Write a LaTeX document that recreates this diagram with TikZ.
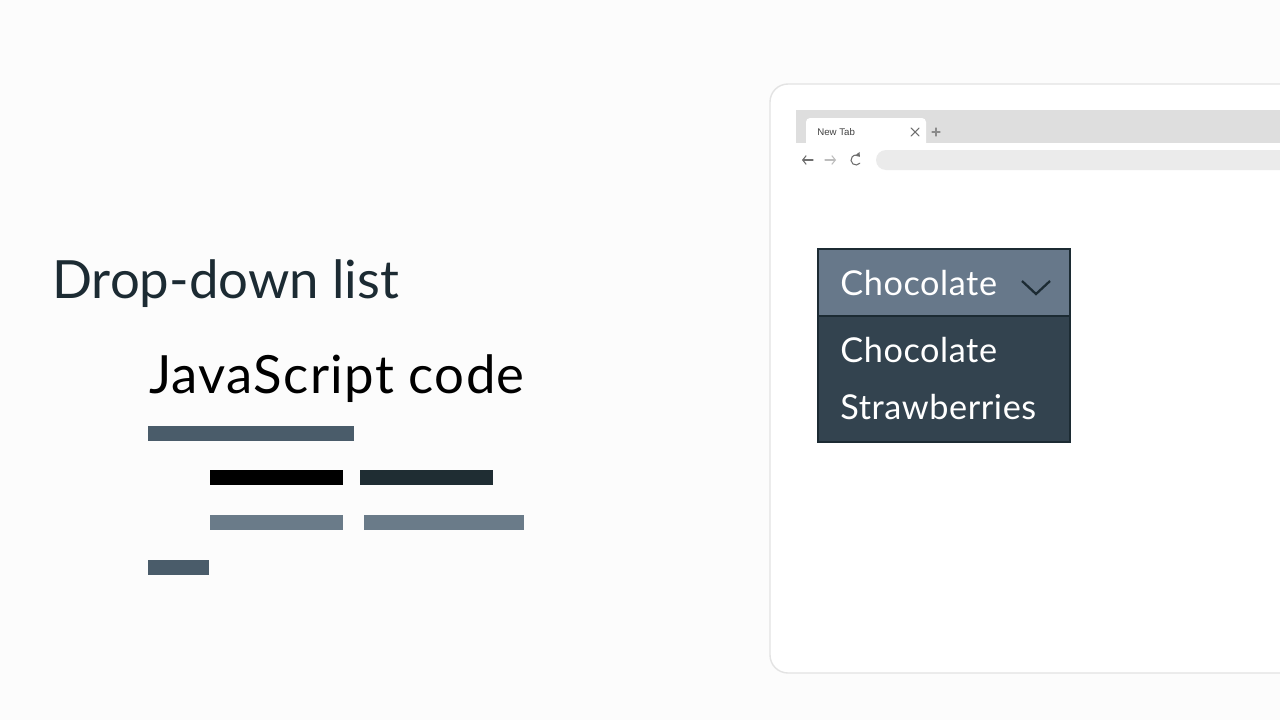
\documentclass[tikz,border=0pt]{standalone}
\usepackage{fontspec}
\setmainfont{Lato}
\setsansfont{Liberation Sans}
\usepackage{xcolor}
\usetikzlibrary{arrows.meta,positioning,calc}

\definecolor{pagebg}{HTML}{FCFCFC}
\definecolor{inkdark}{HTML}{1C2B33}
\definecolor{barslate}{HTML}{4A5C6A}
\definecolor{barnight}{HTML}{1F2D33}
\definecolor{barsteel}{HTML}{6A7B89}
\definecolor{headfill}{HTML}{67788A}
\definecolor{listfill}{HTML}{33434F}
\definecolor{chromeline}{HTML}{E3E3E3}
\definecolor{tabstrip}{HTML}{DEDEDE}
\definecolor{urlfill}{HTML}{EBEBEB}
\definecolor{icongray}{HTML}{6E6E6E}
\definecolor{iconpale}{HTML}{BDBDBD}

\begin{document}
\begin{tikzpicture}[x=0.02cm,y=-0.02cm]

\tikzset{title/.style={anchor=base west, inner sep=0pt, text=inkdark, font=\fontsize{30}{36}\selectfont},
codebar/.style={anchor=north west, inner sep=0pt, outer sep=0pt, minimum height=0.3cm},
menutext/.style={anchor=base west, inner sep=0pt, text=white, font=\fontsize{19.5}{23}\selectfont\addfontfeature{LetterSpace=1.7}},
icon/.style={line width=0.6pt, line cap=round}}

\useasboundingbox (0,0) rectangle (1280,720);
\fill[pagebg] (0,0) rectangle (1280,720);
\clip (0,0) rectangle (1280,720);

% headings
\node[title] (heading) at (52,298) {Drop-down list};
\node[title, text=black, font=\fontsize{30}{36}\selectfont\addfontfeature{LetterSpace=2.5}] (jscode) at (149,393) {JavaScript code};

% the code lines
\foreach \i/\x/\y/\w/\c in {1/148/426/206/barslate, 2/210/470/133/black, 3/360/470/133/barnight,
  4/210/515/133/barsteel, 5/364/515/160/barsteel, 6/148/560/61/barslate}
  \node[codebar, fill=\c, minimum width=\w*0.02cm] (bar\i) at (\x,\y) {};

%the browser window
\draw[chromeline, line width=0.8pt, fill=white, rounded corners=0.36cm] (770,84) rectangle (1320,673);
\fill[tabstrip] (796,110) rectangle (1290,143);
\fill[white, rounded corners=0.08cm] (806,118) rectangle (926,150);
\fill[white] (796,143) rectangle (1290,148);
\node[anchor=west, inner sep=0pt, font=\sffamily\fontsize{5.5}{6}\selectfont, text=black!75] (tabname) at (817,132) {New Tab};
\coordinate (closex) at (915,132);
\draw[icon, icongray] ($(closex)+(-4,-4)$) -- ($(closex)+(4,4)$) ($(closex)+(-4,4)$) -- ($(closex)+(4,-4)$);
\coordinate (newtab) at (936,132);
\draw[icon, icongray!80] ($(newtab)+(-4,0)$) -- ($(newtab)+(4,0)$) ($(newtab)+(0,-4)$) -- ($(newtab)+(0,4)$);

% back, forward, reload
\coordinate (back) at (807,160);
\coordinate (fwd) at (831,160);
\coordinate (reload) at (856,160);
\draw[icon, icongray, -{Straight Barb[length=2pt,width=5pt]}] ($(back)+(6,0)$) -- ($(back)+(-5,0)$);
\draw[icon, iconpale, -{Straight Barb[length=2pt,width=5pt]}] ($(fwd)+(-6,0)$) -- ($(fwd)+(5,0)$);
\begin{scope}[shift={(reload)}, y=0.02cm]
  \draw[icon, icongray, -{Triangle[length=2.2pt,width=3.2pt]}] (-40:5) arc[start angle=-40, end angle=-320, radius=0.1cm];
\end{scope}
\fill[urlfill, rounded corners=0.2cm] (876,150) rectangle (1310,170);

%now the drop-down
\draw[inkdark, line width=1.2pt, fill=headfill] (818,249) rectangle (1070,316);
\draw[inkdark, line width=1.2pt, fill=listfill] (818,316) rectangle (1070,442);
\node[menutext] (current) at (840,295) {Chocolate};
\node[menutext] (optchoc) at (840,362) {Chocolate};
\node[menutext] (optstraw) at (840,419) {Strawberries};
\coordinate (chevron) at (1036,294);
\draw[inkdark, line width=1.3pt] ($(chevron)+(-14,-13)$) -- (chevron) -- ($(chevron)+(14,-13)$);

\end{tikzpicture}
\end{document}
